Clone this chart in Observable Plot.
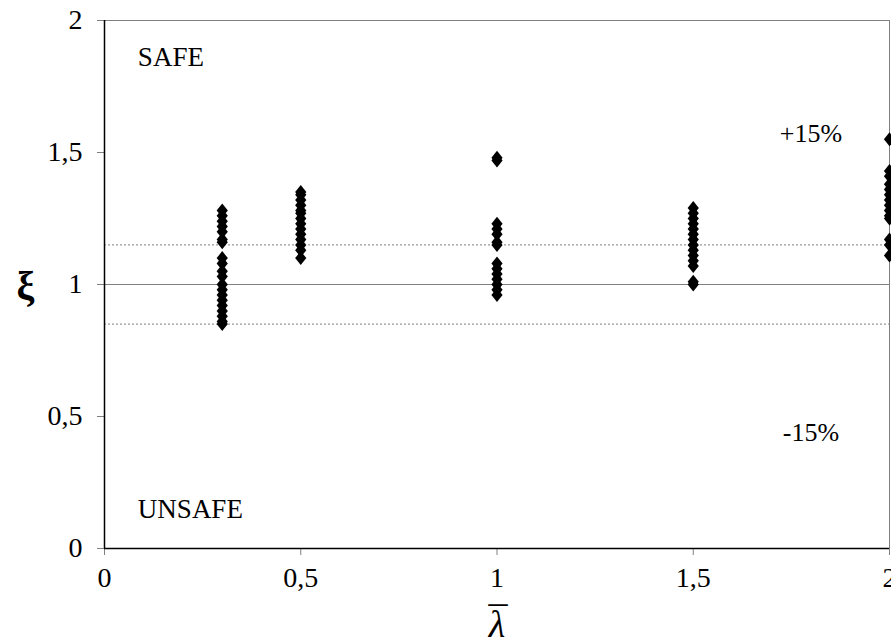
<!DOCTYPE html>
<html>
<head>
<meta charset="utf-8">
<script src="https://cdn.jsdelivr.net/npm/d3@7"></script>
<script src="https://cdn.jsdelivr.net/npm/@observablehq/plot@0.6"></script>
<style>
  html, body { margin: 0; padding: 0; background: #fff; }
  svg, svg text { font-family: "Liberation Serif", "Times New Roman", serif !important; }
</style>
</head>
<body>
<div id="chart"></div>
<script>
// λ̄ groups and the ξ values read at each
const lambdaGroups = [0.3, 0.5, 1, 1.5, 2];
const xiAt03 = [1.28, 1.26, 1.24, 1.22, 1.20, 1.17, 1.16, 1.10, 1.08, 1.05, 1.03, 1.00, 0.98, 0.96, 0.94, 0.92, 0.90, 0.88, 0.86, 0.85];
const xiAt05 = [1.35, 1.34, 1.32, 1.30, 1.28, 1.27, 1.25, 1.23, 1.21, 1.19, 1.17, 1.15, 1.13, 1.10];
const xiAt1  = [1.48, 1.47, 1.23, 1.21, 1.19, 1.16, 1.15, 1.08, 1.06, 1.04, 1.02, 1.00, 0.98, 0.96];
const xiAt15 = [1.29, 1.27, 1.25, 1.23, 1.21, 1.19, 1.17, 1.15, 1.13, 1.11, 1.09, 1.07, 1.01, 1.00];
const xiAt2  = [1.55, 1.43, 1.41, 1.38, 1.36, 1.34, 1.32, 1.30, 1.28, 1.26, 1.25, 1.17, 1.15, 1.11];
const xiSeries = [xiAt03, xiAt05, xiAt1, xiAt15, xiAt2];

const tickValues = [0, 0.5, 1, 1.5, 2];
const referenceLine = [1];
const toleranceLines = [0.85, 1.15];

const noteLabels = ["SAFE", "UNSAFE", "+15%", "-15%"];
const noteX = [0.085, 0.085, 1.80, 1.80];
const noteY = [1.86, 0.15, 1.57, 0.44];
const noteAnchor = ["start", "start", "middle", "middle"];

const points = lambdaGroups.flatMap((lam, i) => xiSeries[i].map(xi => ({lam, xi})));
const notes = noteLabels.map((t, i) => ({t, x: noteX[i], y: noteY[i], a: noteAnchor[i]}));
const fmt = d => String(d).replace(".", ",");

// Excel-like diamond marker: a little taller than wide
const excelDiamond = {
  draw(context) {
    const w = 5.6, h = 7;
    context.moveTo(0, -h);
    context.lineTo(w, 0);
    context.lineTo(0, h);
    context.lineTo(-w, 0);
    context.closePath();
  }
};

const chart = Plot.plot({
  width: 891,
  height: 644,
  marginLeft: 104,
  marginRight: 2,
  marginTop: 20,
  marginBottom: 96,
  style: {fontFamily: "Liberation Serif, serif", fontSize: "28px", color: "#000", background: "#fff"},
  x: {domain: [0, 2], ticks: tickValues, tickFormat: fmt, label: null},
  y: {domain: [0, 2], ticks: tickValues, tickFormat: fmt, label: null},
  marks: [
    Plot.ruleY([2], {stroke: "#808080", strokeWidth: 1}),
    Plot.ruleX([2], {stroke: "#808080", strokeWidth: 1}),
    Plot.ruleY(referenceLine, {stroke: "#808080", strokeWidth: 1.2}),
    Plot.ruleY(toleranceLines, {stroke: "#808080", strokeWidth: 1, strokeDasharray: "2,2"}),
    Plot.axisX({ticks: tickValues, tickFormat: fmt, tickSize: 7, tickPadding: 12, stroke: "#808080", fontSize: 28, label: null}),
    Plot.axisY({ticks: tickValues, tickFormat: fmt, tickSize: 7, tickPadding: 15, stroke: "#808080", fontSize: 28, label: null}),
    Plot.ruleX([0], {stroke: "#000", strokeWidth: 1.5}),
    Plot.ruleY([0], {stroke: "#000", strokeWidth: 1.5}),
    Plot.dot(points, {x: "lam", y: "xi", symbol: excelDiamond, fill: "#000", stroke: null}),
    Plot.text(notes.filter(d => d.a === "start"), {x: "x", y: "y", text: "t", textAnchor: "start", fontSize: 27, fill: "#000"}),
    Plot.text(notes.filter(d => d.a === "middle"), {x: "x", y: "y", text: "t", textAnchor: "middle", fontSize: 26, fill: "#000"}),
    Plot.text(["ξ"], {frameAnchor: "left", dx: -88, dy: 2, fontSize: 40, fontWeight: "bold", fill: "#000"}),
    Plot.text(["λ"], {frameAnchor: "bottom", dy: 88, fontSize: 38, fontStyle: "italic", fill: "#000"}),
    Plot.text(["¯"], {frameAnchor: "bottom", dx: 1, dy: 84, fontSize: 38, fill: "#000"})
  ]
});
document.getElementById("chart").appendChild(chart);
</script>
</body>
</html>
